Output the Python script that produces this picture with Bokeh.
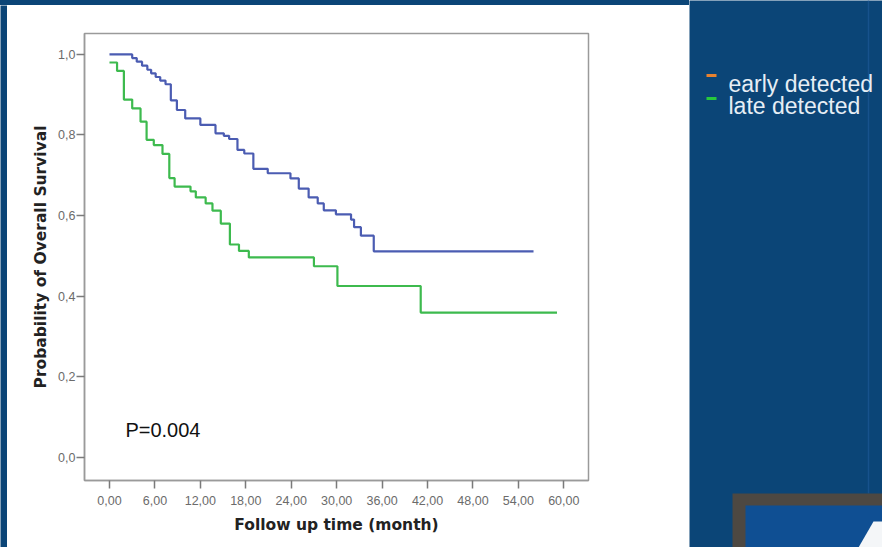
from bokeh.plotting import figure
from bokeh.models import Range1d, FixedTicker, Label, Div
from bokeh.layouts import row, column
from bokeh.embed import file_html
from bokeh.resources import INLINE
from bokeh.core.properties import value

# ---- data ----
early_time = [0, 3.0, 3.6, 4.3, 5.0, 5.5, 6.1, 6.7, 7.4, 8.1, 8.9, 10.0, 12.0, 14.0, 15.1,
              15.8, 16.9, 17.8, 19.0, 20.9, 23.9, 25.0, 26.3, 27.5, 28.3, 29.9, 31.9, 32.3,
              33.2, 34.9, 56.0]
early_surv = [1.0, 0.991, 0.982, 0.972, 0.962, 0.953, 0.944, 0.935, 0.926, 0.886, 0.862, 0.841,
              0.825, 0.804, 0.798, 0.790, 0.763, 0.754, 0.716, 0.705, 0.692, 0.667, 0.645, 0.630,
              0.613, 0.603, 0.590, 0.571, 0.550, 0.511, 0.511]

late_time = [0, 1.0, 1.9, 3.0, 4.1, 4.9, 5.85, 7.0, 7.9, 8.6, 10.7, 11.4, 12.7, 13.6, 14.7,
             15.9, 17.1, 18.4, 27.0, 30.1, 41.1, 59.1]
late_surv = [0.98, 0.959, 0.888, 0.866, 0.833, 0.788, 0.775, 0.753, 0.693, 0.672, 0.660, 0.645,
             0.630, 0.612, 0.580, 0.528, 0.512, 0.496, 0.474, 0.425, 0.359, 0.359]

x_ticks = [0, 6, 12, 18, 24, 30, 36, 42, 48, 54, 60]
x_tick_labels = ["0,00", "6,00", "12,00", "18,00", "24,00", "30,00", "36,00", "42,00",
                 "48,00", "54,00", "60,00"]
y_ticks = [0.0, 0.2, 0.4, 0.6, 0.8, 1.0]
y_tick_labels = ["0,0", "0,2", "0,4", "0,6", "0,8", "1,0"]

legend_labels = ["early detected", "late detected"]
legend_colors = ["#e8822f", "#27c93c"]
p_value_text = "P=0.004"
x_title = "Follow up time (month)"
y_title = "Probability of Overall Survival"

# ---- styles / positions ----
BLUE_BG = "#0b4577"
EARLY_COLOR = "#4b5cb2"
LATE_COLOR = "#3dba4e"
FRAME_COLOR = "#9a9a9a"

TOTAL_W, TOTAL_H = 882, 547
LEFT_STRIP, TOP_STRIP = 7, 5
W_A = 689 - LEFT_STRIP
H_A = TOTAL_H - TOP_STRIP
W_B = TOTAL_W - 689


def blank(w, h, color):
    f = figure(width=w, height=h, output_backend="svg", toolbar_location=None,
               x_range=Range1d(0, w), y_range=Range1d(h, 0), min_border=0,
               x_axis_type=None, y_axis_type=None)
    f.background_fill_color = color
    f.border_fill_color = color
    f.outline_line_color = None
    f.grid.visible = False
    f.frame_align = False
    return f


# ---- main white chart panel ----
p = figure(width=W_A, height=H_A, output_backend="svg", toolbar_location=None,
           x_range=Range1d(-3.3, 63.26), y_range=Range1d(-0.058, 1.052),
           min_border_left=84 - LEFT_STRIP, min_border_right=W_A - (588 - LEFT_STRIP),
           min_border_top=33 - TOP_STRIP, min_border_bottom=H_A - (480 - TOP_STRIP))
p.frame_align = False
p.background_fill_color = "white"
p.border_fill_color = "white"
p.outline_line_color = FRAME_COLOR
p.outline_line_width = 1.5
p.grid.visible = False

p.step(early_time, early_surv, mode="after", line_color=EARLY_COLOR, line_width=2.2)
p.step(late_time, late_surv, mode="after", line_color=LATE_COLOR, line_width=2.2)

for ax in (p.xaxis[0], p.yaxis[0]):
    ax.axis_line_color = FRAME_COLOR
    ax.axis_line_width = 1.5
    ax.major_tick_line_color = "#7a7a7a"
    ax.major_tick_line_width = 1.5
    ax.major_tick_out = 8
    ax.major_tick_in = 0
    ax.minor_tick_line_color = None
    ax.major_label_text_font = "Liberation Sans"
    ax.major_label_text_font_size = "12.5px"
    ax.major_label_text_color = "#6b6b6b"
    ax.axis_label_text_font = "DejaVu Sans"
    ax.axis_label_text_font_style = "bold"
    ax.axis_label_text_font_size = "15.5px"
    ax.axis_label_text_color = "#222222"

p.xaxis.ticker = FixedTicker(ticks=x_ticks)
p.xaxis.major_label_overrides = dict(zip(x_ticks, x_tick_labels))
p.xaxis.major_label_standoff = 7
p.xaxis.axis_label = x_title
p.xaxis.axis_label_standoff = 8

p.yaxis.ticker = FixedTicker(ticks=y_ticks)
p.yaxis.major_label_overrides = dict(zip(y_ticks, y_tick_labels))
p.yaxis.major_label_standoff = 1
p.yaxis.axis_label = y_title
p.yaxis.axis_label_standoff = 5

p.add_layout(Label(x=2.1, y=0.067, text=p_value_text, text_font="Liberation Sans",
                   text_font_size="20px", text_color="#111111",
                   text_baseline="alphabetic", text_align="left"))

top_strip = Div(text="", width=W_A + LEFT_STRIP, height=TOP_STRIP,
                styles={"background-color": BLUE_BG, "margin": "0", "padding": "0"})
left_strip = blank(LEFT_STRIP, H_A, BLUE_BG)

# ---- right-hand blue panel with the legend ----
q = blank(W_B, TOTAL_H, BLUE_BG)

# faint vertical line
q.segment(x0=[179], y0=[0], x1=[179], y1=[493], line_color="#17528c", line_width=1.5)

# decorative logo box at bottom right
q.quad(left=[43], right=[W_B], top=[493], bottom=[TOTAL_H], fill_color="#4d4842",
       line_color=None)
q.quad(left=[56], right=[W_B], top=[505], bottom=[TOTAL_H], fill_color="#0f4f93",
       line_color=None)
q.patches(xs=[[169, 184, W_B, W_B]], ys=[[TOTAL_H, 521, 521, TOTAL_H]],
          fill_color="#f4f6f8", line_color=None)

legend_y = [83, 105]
dash_y = [75, 98]
q.segment(x0=[17, 17], y0=dash_y, x1=[27, 27], y1=dash_y, line_color=legend_colors,
          line_width=3)
q.text(x=[39, 39], y=legend_y, text=legend_labels, text_font=value("Liberation Sans"),
       text_font_size="23px", text_color="#e6eef5", text_baseline="alphabetic",
       text_align="left")

layout = row(column(top_strip, row(left_strip, p, spacing=0), spacing=0), q, spacing=0)
open("out.html", "w").write(file_html(layout, INLINE))
